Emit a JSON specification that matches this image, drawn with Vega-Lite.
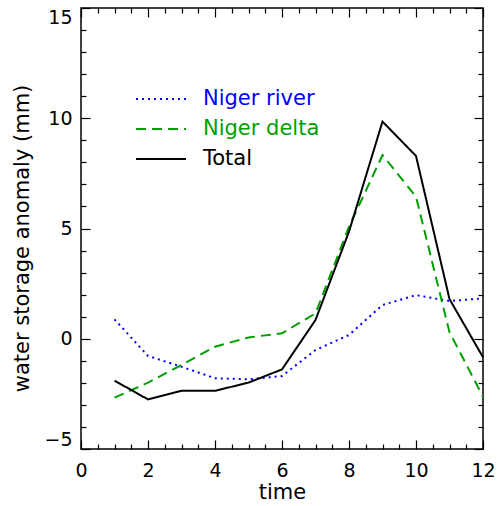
{
  "$schema": "https://vega.github.io/schema/vega-lite/v6.json",
  "autosize": "none",
  "padding": {"left": 81, "top": 8, "right": 14, "bottom": 57},
  "width": 402,
  "height": 441,
  "background": "white",
  "config": {
    "view": {"stroke": "black", "strokeWidth": 1.5},
    "font": "DejaVu Sans",
    "axis": {"domain": false, "grid": false, "tickColor": "black", "tickWidth": 1.2, "labelColor": "black", "titleColor": "black", "labelFont": "DejaVu Sans", "titleFont": "DejaVu Sans", "titleFontWeight": "normal"}
  },
  "datasets": {
    "storage": [
      {"time": 1, "series": "Niger river", "value": 0.88},
      {"time": 2, "series": "Niger river", "value": -0.78},
      {"time": 3, "series": "Niger river", "value": -1.27},
      {"time": 4, "series": "Niger river", "value": -1.79},
      {"time": 5, "series": "Niger river", "value": -1.84},
      {"time": 6, "series": "Niger river", "value": -1.69},
      {"time": 7, "series": "Niger river", "value": -0.51},
      {"time": 8, "series": "Niger river", "value": 0.17},
      {"time": 9, "series": "Niger river", "value": 1.53},
      {"time": 10, "series": "Niger river", "value": 1.98},
      {"time": 11, "series": "Niger river", "value": 1.71},
      {"time": 12, "series": "Niger river", "value": 1.83},
      {"time": 1, "series": "Niger delta", "value": -2.67},
      {"time": 2, "series": "Niger delta", "value": -1.99},
      {"time": 3, "series": "Niger delta", "value": -1.19},
      {"time": 4, "series": "Niger delta", "value": -0.36},
      {"time": 5, "series": "Niger delta", "value": 0.06},
      {"time": 6, "series": "Niger delta", "value": 0.25},
      {"time": 7, "series": "Niger delta", "value": 1.15},
      {"time": 8, "series": "Niger delta", "value": 5.08},
      {"time": 9, "series": "Niger delta", "value": 8.33},
      {"time": 10, "series": "Niger delta", "value": 6.44},
      {"time": 11, "series": "Niger delta", "value": 0.3},
      {"time": 12, "series": "Niger delta", "value": -2.63},
      {"time": 1, "series": "Total", "value": -1.9},
      {"time": 2, "series": "Total", "value": -2.75},
      {"time": 3, "series": "Total", "value": -2.36},
      {"time": 4, "series": "Total", "value": -2.36},
      {"time": 5, "series": "Total", "value": -1.99},
      {"time": 6, "series": "Total", "value": -1.39},
      {"time": 7, "series": "Total", "value": 0.85},
      {"time": 8, "series": "Total", "value": 4.86},
      {"time": 9, "series": "Total", "value": 9.85},
      {"time": 10, "series": "Total", "value": 8.29},
      {"time": 11, "series": "Total", "value": 1.8},
      {"time": 12, "series": "Total", "value": -0.84}
    ]
  },
  "data": {"name": "storage"},
  "resolve": {"axis": {"x": "independent", "y": "independent"}},
  "layer": [
    {
      "mark": {"type": "line", "strokeWidth": 2},
      "encoding": {
        "x": {
          "field": "time", "type": "quantitative",
          "scale": {"domain": [0, 12], "nice": false, "zero": false},
          "axis": {
            "orient": "bottom", "title": "time", "titleFontSize": 21, "titlePadding": 1,
            "values": [0, 2, 4, 6, 8, 10, 12], "format": "d", "ticks": false,
            "labelFontSize": 19, "labelPadding": 12, "labelFlush": false, "labelOverlap": false
          }
        },
        "y": {
          "field": "value", "type": "quantitative",
          "scale": {"domain": [-5, 15], "nice": false, "zero": false},
          "axis": {
            "orient": "left", "title": "water storage anomaly (mm)", "titleFontSize": 21, "titlePadding": 11, "titleY": 230,
            "values": [-5, 0, 5, 10, 15], "format": "d", "ticks": false,
            "labelFontSize": 19, "labelPadding": 9, "labelOverlap": false, "labelFlush": true
          }
        },
        "color": {
          "field": "series", "type": "nominal",
          "scale": {"domain": ["Niger river", "Niger delta", "Total"], "range": ["#0000ff", "#00a000", "#000000"]},
          "legend": {
            "title": null, "orient": "none", "legendX": 54, "legendY": 76,
            "symbolType": "stroke", "symbolSize": 2500, "symbolStrokeWidth": 2, "clipHeight": 30,
            "labelFont": "DejaVu Sans", "labelFontSize": 21, "labelOffset": 16, "rowPadding": 0,
            "labelColor": {"expr": "datum.label === 'Niger river' ? '#0000ff' : datum.label === 'Niger delta' ? '#00a000' : '#000000'"}
          }
        },
        "strokeDash": {
          "field": "series", "type": "nominal",
          "scale": {"domain": ["Niger river", "Niger delta", "Total"], "range": [[2, 4], [10, 6], [1, 0]]},
          "legend": {
            "title": null, "orient": "none", "legendX": 54, "legendY": 76,
            "symbolType": "stroke", "symbolSize": 2500, "symbolStrokeWidth": 2, "clipHeight": 30,
            "labelFont": "DejaVu Sans", "labelFontSize": 21, "labelOffset": 16, "rowPadding": 0,
            "labelColor": {"expr": "datum.label === 'Niger river' ? '#0000ff' : datum.label === 'Niger delta' ? '#00a000' : '#000000'"}
          }
        }
      }
    },
    {
      "mark": {"type": "line", "opacity": 0},
      "encoding": {
        "x": {"field": "time", "type": "quantitative", "axis": {"orient": "bottom", "title": null, "labels": false, "offset": -9, "tickSize": 9, "values": [0, 2, 4, 6, 8, 10, 12]}},
        "y": {"field": "value", "type": "quantitative", "axis": {"orient": "left", "title": null, "labels": false, "offset": -9, "tickSize": 9, "values": [-5, 0, 5, 10, 15]}},
        "detail": {"field": "series", "type": "nominal"}
      }
    },
    {
      "mark": {"type": "line", "opacity": 0},
      "encoding": {
        "x": {"field": "time", "type": "quantitative", "axis": {"orient": "bottom", "title": null, "labels": false, "offset": -5, "tickSize": 5, "values": [0.5, 1, 1.5, 2.5, 3, 3.5, 4.5, 5, 5.5, 6.5, 7, 7.5, 8.5, 9, 9.5, 10.5, 11, 11.5]}},
        "y": {"field": "value", "type": "quantitative", "axis": {"orient": "left", "title": null, "labels": false, "offset": -5, "tickSize": 5, "values": [-4, -3, -2, -1, 1, 2, 3, 4, 6, 7, 8, 9, 11, 12, 13, 14]}},
        "detail": {"field": "series", "type": "nominal"}
      }
    },
    {
      "mark": {"type": "line", "opacity": 0},
      "encoding": {
        "x": {"field": "time", "type": "quantitative", "axis": {"orient": "top", "title": null, "labels": false, "offset": -9, "tickSize": 9, "values": [0, 2, 4, 6, 8, 10, 12]}},
        "y": {"field": "value", "type": "quantitative", "axis": {"orient": "right", "title": null, "labels": false, "offset": -9, "tickSize": 9, "values": [-5, 0, 5, 10, 15]}},
        "detail": {"field": "series", "type": "nominal"}
      }
    },
    {
      "mark": {"type": "line", "opacity": 0},
      "encoding": {
        "x": {"field": "time", "type": "quantitative", "axis": {"orient": "top", "title": null, "labels": false, "offset": -5, "tickSize": 5, "values": [0.5, 1, 1.5, 2.5, 3, 3.5, 4.5, 5, 5.5, 6.5, 7, 7.5, 8.5, 9, 9.5, 10.5, 11, 11.5]}},
        "y": {"field": "value", "type": "quantitative", "axis": {"orient": "right", "title": null, "labels": false, "offset": -5, "tickSize": 5, "values": [-4, -3, -2, -1, 1, 2, 3, 4, 6, 7, 8, 9, 11, 12, 13, 14]}},
        "detail": {"field": "series", "type": "nominal"}
      }
    }
  ]
}
